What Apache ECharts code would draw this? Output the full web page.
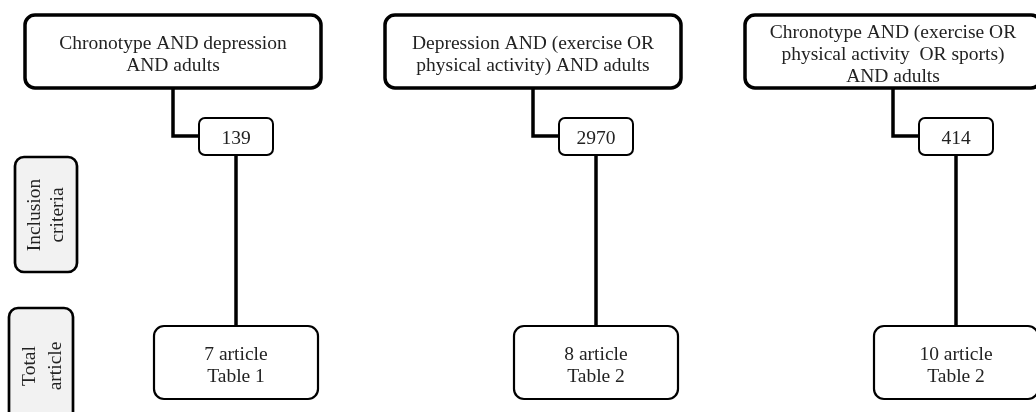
<!DOCTYPE html>
<html>
<head>
<meta charset="utf-8">
<script src="https://cdn.jsdelivr.net/npm/echarts@6/dist/echarts.min.js"></script>
<style>
html,body{margin:0;padding:0;background:#fff;}
#main{width:1036px;height:412px;}
</style>
</head>
<body>
<div id="main"></div>
<script>
// ---- data ----
const columns = ['Search 1', 'Search 2', 'Search 3'];
const queries = [
  'Chronotype AND depression\nAND adults',
  'Depression AND (exercise OR\nphysical activity) AND adults',
  'Chronotype AND (exercise OR\nphysical activity  OR sports)\nAND adults'
];
const counts = [139, 2970, 414];
const articles = [7, 8, 10];
const tables = ['Table 1', 'Table 2', 'Table 2'];
const stageLabels = ['Inclusion\ncriteria', 'Total\narticle'];

// ---- layout / style ----
const FONT = '19.5px "Liberation Serif", "Times New Roman", serif';
const TXT = '#222';
const INK = '#000';
const L = {
  topOffset: -63, topW: 296, topY: 15, topH: 73,
  cntW: 74, cntY: 118, cntH: 37, elbowY: 136,
  botW: 164, botY: 326, botH: 73, textDy: 3
};

function renderItem(params, api) {
  const i = params.dataIndex;
  const cx = api.coord([i, 0])[0];
  const tx = cx + L.topOffset;
  return {
    type: 'group',
    children: [
      { type: 'rect', shape: { x: tx - L.topW / 2, y: L.topY, width: L.topW, height: L.topH, r: 10 },
        style: { fill: '#fff', stroke: INK, lineWidth: 3.5 } },
      { type: 'text', style: { text: queries[i], x: tx, y: L.topY + L.topH / 2 + L.textDy, align: 'center', verticalAlign: 'middle',
        font: FONT, lineHeight: 22, fill: TXT } },
      { type: 'polyline', shape: { points: [[tx, L.topY + L.topH], [tx, L.elbowY], [cx - L.cntW / 2, L.elbowY]] },
        style: { fill: null, stroke: INK, lineWidth: 3.5 } },
      { type: 'rect', shape: { x: cx - L.cntW / 2, y: L.cntY, width: L.cntW, height: L.cntH, r: 6 },
        style: { fill: '#fff', stroke: INK, lineWidth: 2 } },
      { type: 'text', style: { text: String(counts[i]), x: cx, y: L.cntY + L.cntH / 2 + L.textDy - 1, align: 'center', verticalAlign: 'middle',
        font: FONT, fill: TXT } },
      { type: 'line', shape: { x1: cx, y1: L.cntY + L.cntH, x2: cx, y2: L.botY },
        style: { stroke: INK, lineWidth: 3.5 } },
      { type: 'rect', shape: { x: cx - L.botW / 2, y: L.botY, width: L.botW, height: L.botH, r: 10 },
        style: { fill: '#fff', stroke: INK, lineWidth: 2.2 } },
      { type: 'text', style: { text: articles[i] + ' article\n' + tables[i], x: cx, y: L.botY + L.botH / 2 + L.textDy, align: 'center', verticalAlign: 'middle',
        font: FONT, lineHeight: 22, fill: TXT } }
    ]
  };
}

const chart = echarts.init(document.getElementById('main'), null, { renderer: 'canvas' });
chart.setOption({
  animation: false,
  backgroundColor: '#fff',
  grid: { left: 236, right: 80, top: 0, bottom: 0 },
  xAxis: { type: 'category', data: columns, boundaryGap: false, show: false },
  yAxis: { type: 'value', show: false },
  graphic: [
    { type: 'rect', shape: { x: 15, y: 157, width: 62, height: 115, r: 9 },
      style: { fill: '#f2f2f2', stroke: INK, lineWidth: 2.7 } },
    { type: 'text', x: 46, y: 215, rotation: Math.PI / 2,
      style: { text: stageLabels[0], align: 'center', verticalAlign: 'middle', font: FONT, lineHeight: 23, fill: TXT } },
    { type: 'rect', shape: { x: 9, y: 308, width: 64, height: 116, r: 9 },
      style: { fill: '#f2f2f2', stroke: INK, lineWidth: 2.7 } },
    { type: 'text', x: 43, y: 366, rotation: Math.PI / 2,
      style: { text: stageLabels[1], align: 'center', verticalAlign: 'middle', font: FONT, lineHeight: 26, fill: TXT } }
  ],
  series: [{
    type: 'custom',
    renderItem: renderItem,
    data: counts.map((c, i) => [i, c]),
    encode: { x: 0, y: 1 },
    silent: true
  }]
});
</script>
</body>
</html>
